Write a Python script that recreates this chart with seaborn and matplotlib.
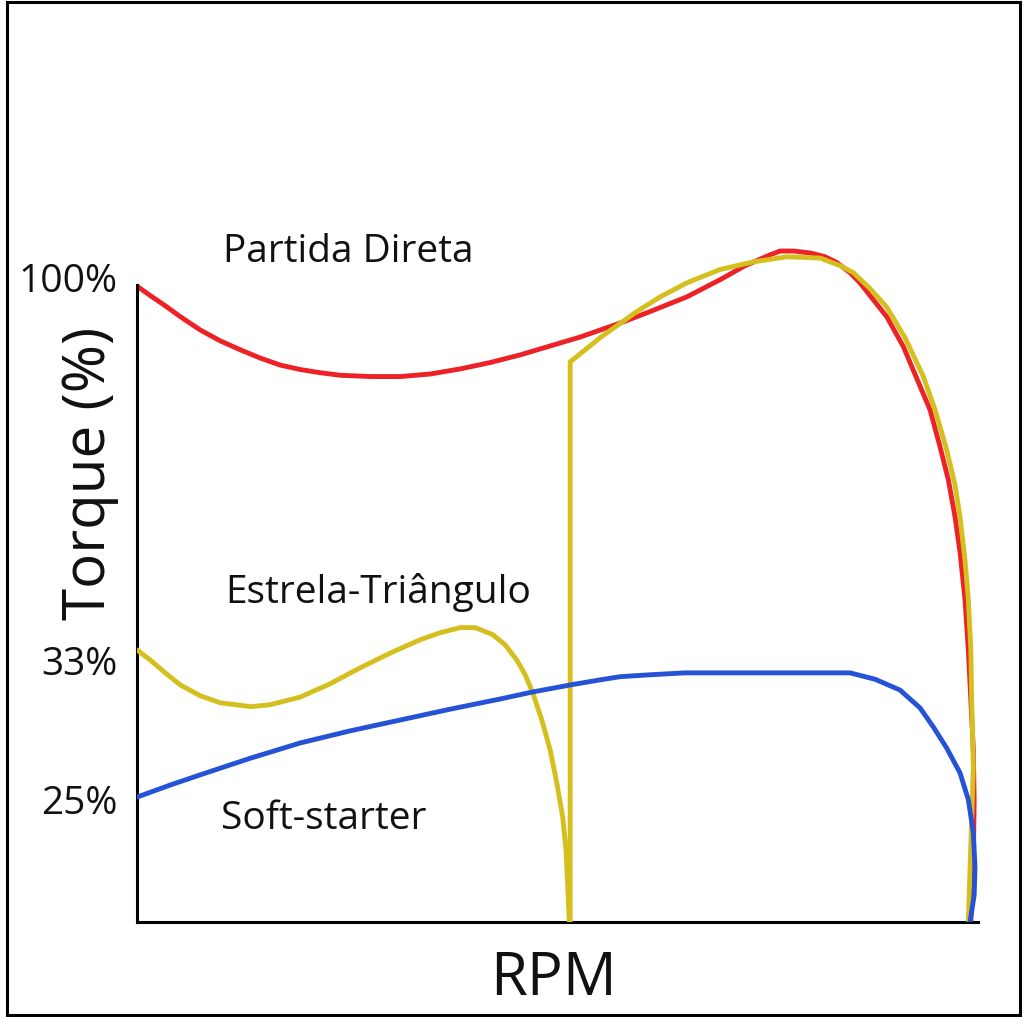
import matplotlib
matplotlib.use("Agg")
import matplotlib.pyplot as plt
import seaborn as sns
import pandas as pd
from matplotlib.patches import Rectangle

sns.set_theme(style="white")
plt.rcParams['font.family'] = ['Open Sans', 'DejaVu Sans']

# RPM (% of range) and torque (chart units, 100 = nominal)
direta_rpm = [0, 1.6, 3.4, 5.2, 7.6, 10.0, 12.4, 14.8, 17.2, 19.6, 22.0, 24.4, 28.0, 31.6,
              35.2, 38.8, 42.4, 46.0, 49.6, 53.2, 58.0, 61.6, 66.0, 70.0, 73.0, 76.0, 77.2,
              78.8, 80.8, 82.6, 84.0, 85.6, 86.8, 88.0, 90.0, 92.0, 94.0, 95.2, 96.4, 97.4,
              98.2, 98.8, 99.4, 99.8, 100.1, 100.4, 100.5, 100.4, 100.1]
direta_torque = [99.8, 98.3, 96.7, 95.0, 92.9, 91.2, 89.8, 88.5, 87.4, 86.7, 86.2, 85.8, 85.6, 85.6,
                 86.0, 86.8, 87.8, 89.0, 90.4, 91.8, 94.0, 95.8, 98.1, 100.8, 103.0, 104.7, 105.3,
                 105.3, 105.0, 104.4, 103.5, 101.9, 100.3, 98.3, 95.0, 90.3, 84.1, 80.4, 74.6, 69.4,
                 63.6, 58.1, 50.6, 42.7, 34.9, 27.0, 19.2, 9.7, 0]

estrela_rpm = [0, 1.6, 3.4, 5.2, 7.6, 10.0, 13.7, 16.0, 19.6, 23.2, 26.8, 30.4, 34.0, 36.4,
               38.8, 40.6, 42.7, 44.2, 45.6, 46.6, 47.5, 48.6, 49.6, 50.4, 51.1, 51.5, 51.7,
               51.9, 52.0, 52.0, 55.6, 60.0, 62.8, 66.0, 70.0, 74.0, 78.0, 82.0, 84.4, 86.0,
               88.0, 90.0, 92.2, 94.4, 95.8, 97.2, 98.2, 98.8, 99.4, 99.8, 100.1, 100.2, 100.4,
               100.2, 100.0, 99.8]
estrela_torque = [42.7, 41.1, 39.1, 37.2, 35.5, 34.4, 33.8, 34.1, 35.3, 37.4, 39.9, 42.2, 44.3, 45.4,
                  46.2, 46.2, 45.1, 43.5, 41.1, 38.8, 36.0, 31.7, 27.0, 21.8, 16.5, 11.3, 5.8,
                  0, 0, 87.9, 91.7, 95.8, 98.1, 100.3, 102.4, 103.6, 104.4, 104.2, 103.0, 101.9,
                  99.4, 96.5, 91.7, 85.6, 80.4, 74.1, 68.6, 63.6, 56.8, 50.6, 42.7, 34.9, 24.3,
                  16.0, 8.2, 0.3]

soft_rpm = [0, 4.0, 7.6, 13.6, 19.6, 25.6, 31.6, 37.6, 43.6, 47.5, 52.0, 55.6, 58.0, 61.6,
            65.8, 74.8, 85.6, 88.6, 91.6, 94.0, 95.6, 97.2, 98.8, 99.8, 100.4, 100.6, 100.5, 100.0]
soft_torque = [19.6, 21.5, 23.1, 25.7, 28.1, 30.0, 31.7, 33.4, 35.0, 36.1, 37.2, 38.0, 38.5, 38.8,
               39.1, 39.1, 39.1, 38.1, 36.4, 33.6, 30.6, 27.3, 23.4, 19.2, 14.0, 8.6, 4.2, 0]

tick_pos = [101.1, 41.1, 19.2]
tick_labels = ["100%", "33%", "25%"]

series_names = ["Partida Direta", "Estrela-Triângulo", "Soft-starter"]
colors = {"Partida Direta": "#EC2227", "Estrela-Triângulo": "#D5BF1F", "Soft-starter": "#2653D6"}

df = pd.concat([
    pd.DataFrame({"rpm": direta_rpm, "torque": direta_torque, "serie": series_names[0]}),
    pd.DataFrame({"rpm": estrela_rpm, "torque": estrela_torque, "serie": series_names[1]}),
    pd.DataFrame({"rpm": soft_rpm, "torque": soft_torque, "serie": series_names[2]}),
], ignore_index=True)

fig = plt.figure(figsize=(10.24, 10.17), dpi=100)
ax = fig.add_axes([137/1024, 1 - 922/1017, (978-137)/1024, (922-230)/1017])

for name in series_names:
    sub = df[df.serie == name]
    sns.lineplot(data=sub, x="rpm", y="torque", sort=False, estimator=None,
                 color=colors[name], linewidth=3.5, ax=ax, legend=False,
                 solid_joinstyle="round", solid_capstyle="round",
                 zorder=3 if name != "Partida Direta" else 2)

ax.set_xlim(0, 100.96)
ax.set_ylim(0, 108.6)
for s in ["top", "right"]:
    ax.spines[s].set_visible(False)
ax.spines["left"].set_bounds(0, 100)
for s in ["left", "bottom"]:
    ax.spines[s].set_color("black")
    ax.spines[s].set_linewidth(2.2)
ax.set_xticks([])
ax.set_yticks(tick_pos)
ax.set_yticklabels(tick_labels, fontsize=28, color="#111111")
ax.tick_params(axis="y", length=0, pad=14)

ax.set_xlabel("RPM", fontsize=43, color="#111111")
ax.xaxis.label.set_va("baseline")
ax.xaxis.set_label_coords(0.495, -0.1055)
ax.set_ylabel("Torque (%)", fontsize=42, color="#111111")
ax.yaxis.set_label_coords(-0.0214, 0.649)

ax.text(10.3, 103.5, "Partida Direta", fontsize=28, va="baseline", ha="left", color="#111111")
ax.text(10.6, 50.1, "Estrela-Triângulo", fontsize=28, va="baseline", ha="left", color="#111111")
ax.text(10.1, 14.6, "Soft-starter", fontsize=28, va="baseline", ha="left", color="#111111")

fig.patches.append(Rectangle((7/1024, 2/1017), (1020-7)/1024, (1015-2)/1017,
                             transform=fig.transFigure, fill=False, edgecolor="black",
                             linewidth=2.2))

fig.savefig("out.png", dpi=100, facecolor="white")
